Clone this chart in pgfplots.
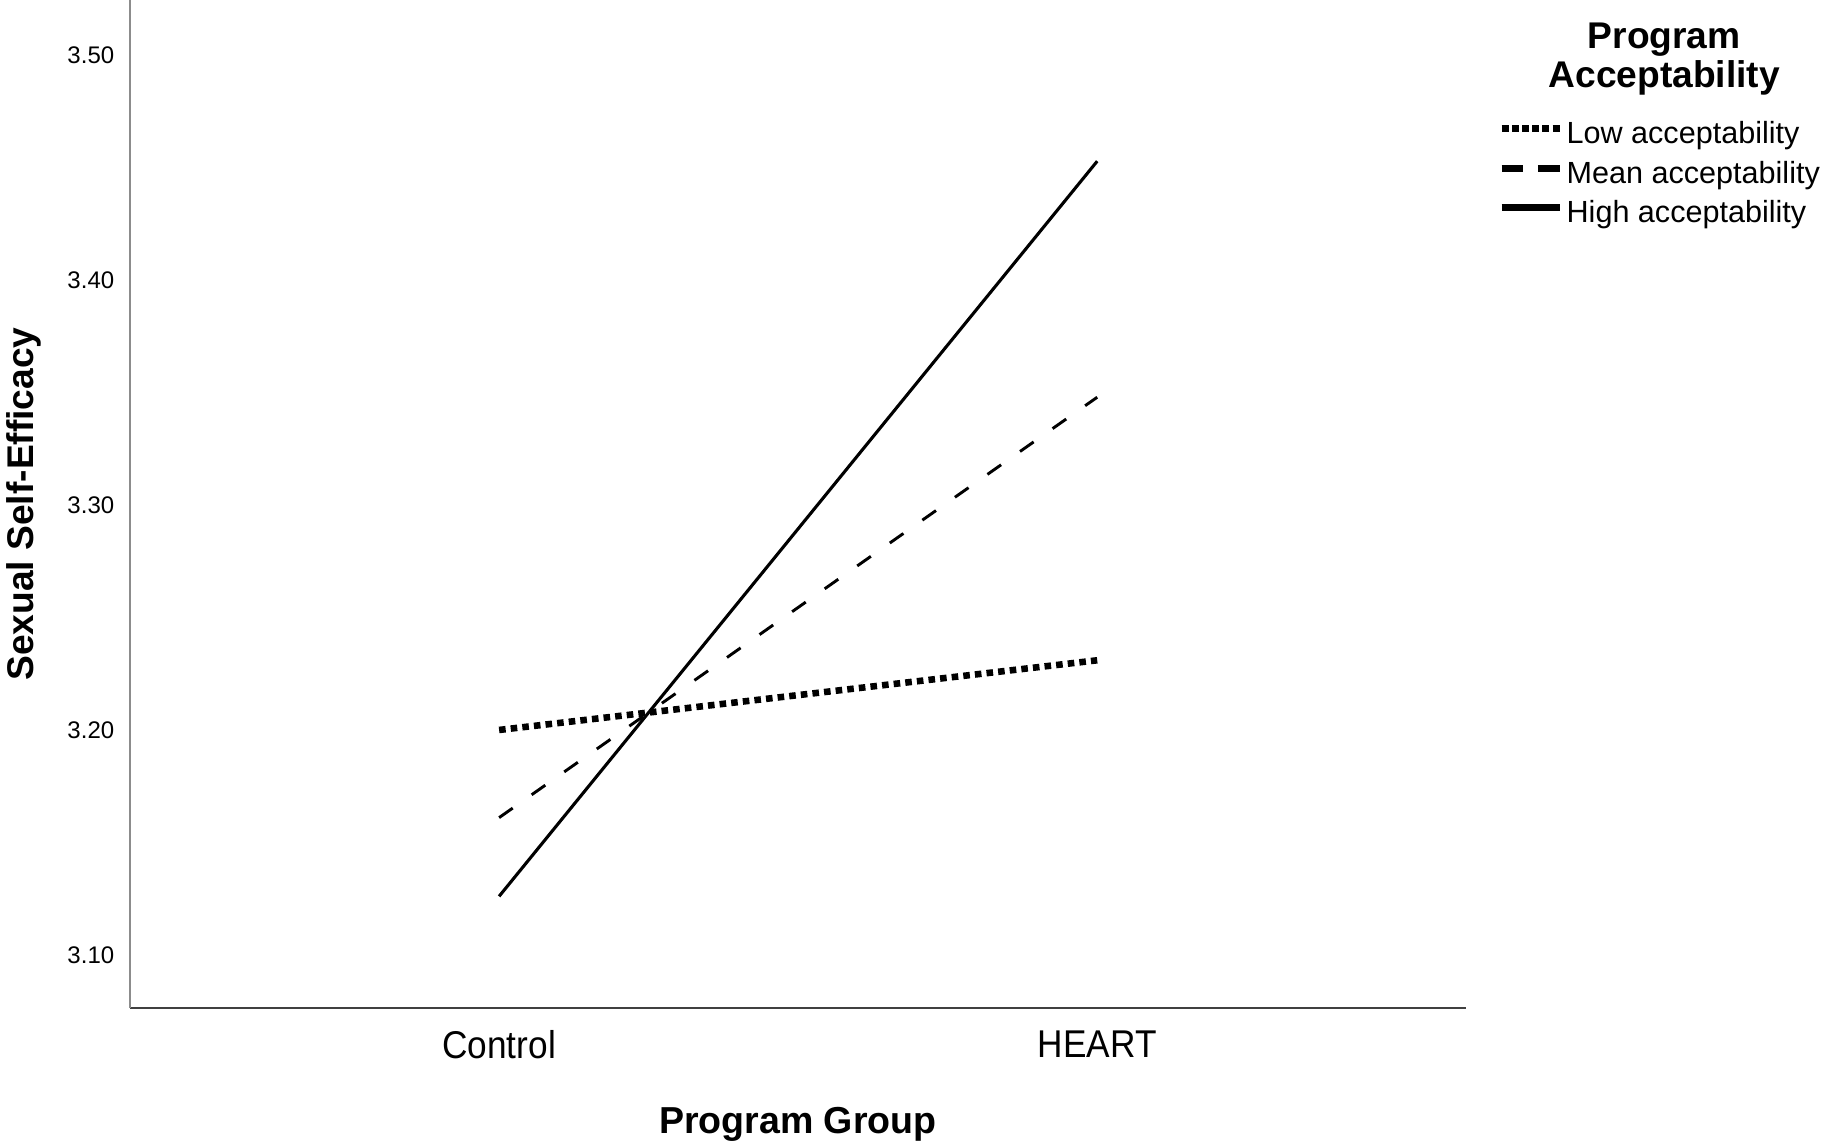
\documentclass[border=0pt]{standalone}
\usepackage{fontspec}
\setmainfont{Liberation Sans}
\newfontfamily\condfont[FakeStretch=0.91]{Liberation Sans}
\usepackage{pgfplots}
\pgfplotsset{compat=1.18}

\begin{document}
\begin{tikzpicture}
\path[use as bounding box] (-33.6pt,-34.5pt) rectangle (436.8pt,260.4pt);
\begin{axis}[
  at={(0pt,0pt)}, anchor=south west,
  scale only axis, width=345pt, height=260.4pt,
  xmin=-0.617, xmax=1.616,
  ymin=3.0763, ymax=3.5247,
  axis x line=bottom, axis y line=left,
  x axis line style={-, line width=0.7pt, draw=black!75},
  y axis line style={-, line width=0.7pt, draw=black!45},
  xtick={0,1}, xticklabels={Control,HEART},
  ytick={3.1,3.2,3.3,3.4,3.5},
  major tick length=0pt,
  tick style={draw=none},
  /pgf/number format/assume math mode=true,
  yticklabel style={/pgf/number format/.cd, fixed, fixed zerofill, precision=2, /tikz/.cd,
     font=\fontsize{6.2}{7}\selectfont, inner sep=0pt, xshift=-3.9pt},
  xticklabel style={font=\condfont\fontsize{10}{12}\selectfont, inner sep=0pt, yshift=-5.7pt, anchor=north},
  xlabel={Program Group},
  ylabel={Sexual Self-Efficacy},
  xlabel style={at={(axis description cs:0.5,0)}, anchor=base, yshift=-32.4pt, inner sep=0pt,
     font=\bfseries\fontsize{9.7}{11}\selectfont},
  ylabel style={at={(axis description cs:0,0.5)}, anchor=base, yshift=24.9pt, inner sep=0pt,
     font=\bfseries\fontsize{9.6}{11}\selectfont},
  legend style={at={(rel axis cs:1.0243,0.8793)}, anchor=north west, draw=none, fill=none,
     inner sep=0pt, outer sep=0pt, font=\fontsize{7.9}{9}\selectfont,
     column sep=0.9pt, row sep=3.0pt, nodes={inner sep=0pt}},
  legend cell align=left,
  clip=false,
]
\addplot[black, line width=1.7pt, dash pattern=on 1.7pt off 1.318pt,
  legend image code/.code={\draw[black, line width=1.8pt, dash pattern=on 1.8pt off 0.84pt] (0pt,1.8pt) -- (15pt,1.8pt);}]
  coordinates {(0,3.200) (1,3.231)};
\addlegendentry{Low acceptability}
\addplot[black, line width=0.75pt, dash pattern=on 4.3pt off 5.98pt,
  legend image code/.code={\draw[black, line width=1.7pt, dash pattern=on 5.6pt off 3.8pt] (0pt,1.8pt) -- (15pt,1.8pt);}]
  coordinates {(0,3.161) (1,3.348)};
\addlegendentry{Mean acceptability}
\addplot[black, line width=0.8pt,
  legend image code/.code={\draw[black, line width=1.8pt] (0pt,1.8pt) -- (15pt,1.8pt);}]
  coordinates {(0,3.126) (1,3.453)};
\addlegendentry{High acceptability}
\node[anchor=north, align=center, inner sep=0pt, font=\bfseries\fontsize{9.6}{9.9}\selectfont]
  at (rel axis cs:1.1487,0.9778) {Program\\Acceptability};
\end{axis}
\end{tikzpicture}
\end{document}
